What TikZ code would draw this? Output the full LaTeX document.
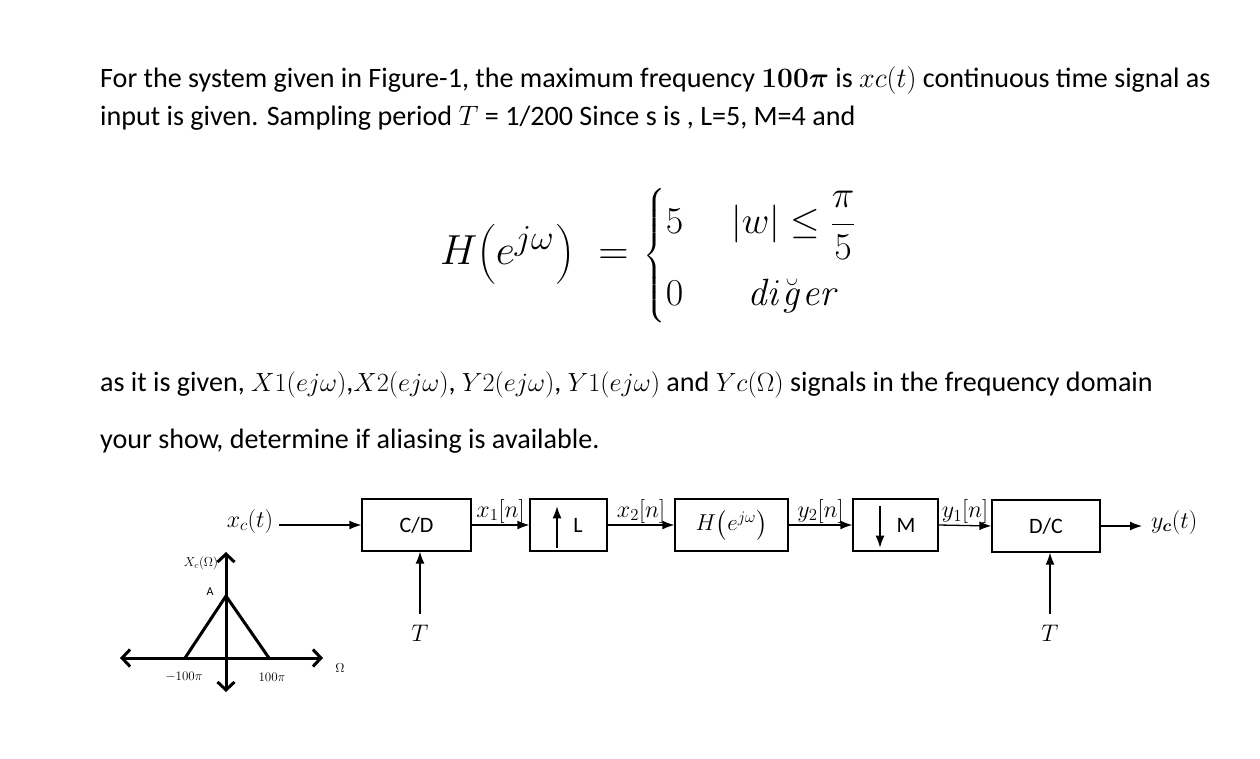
\RequirePackage{fix-cm}
\documentclass[tikz,border=0pt]{standalone}
\usepackage{amsmath}
\usepackage[no-math]{fontspec}
\setmainfont{Carlito}
\usetikzlibrary{arrows.meta}
\newcommand\smm[1]{{\fontsize{26.3}{31}\selectfont$#1$}}
\begin{document}
\begin{tikzpicture}[x=1pt,y=-1pt,
  txt/.style={anchor=base west, inner sep=0pt, font=\fontsize{28.1}{33}\selectfont},
  blk/.style={draw, line width=1.3pt, minimum height=52pt, inner sep=0pt, font=\fontsize{22}{26}\selectfont},
  sig/.style={-{Latex[length=12pt,width=9pt]}, line width=1.3pt},
  lbl/.style={font=\fontsize{24}{28}\selectfont, inner sep=1pt},
  boxtxt/.style={font=\fontsize{22}{26}\selectfont, inner sep=1pt},
  small/.style={font=\fontsize{13}{15}\selectfont, inner sep=0pt},
  ax/.style={{Straight Barb[length=8pt,width=17pt]}-{Straight Barb[length=8pt,width=17pt]}, line width=3pt},
  tri/.style={line width=3pt, line join=miter}
]
\path[use as bounding box, fill=white] (0,0) rectangle (1260,759);

% text
\node[txt] (l1) at (100,88) {For the system given in Figure-1, the maximum frequency $\boldsymbol{100\pi}$ is $xc(t)$ continuous time signal as};
\node[txt] (l2) at (100,126) {input is given. Sampling period $T$ = 1/200 Since s is , L=5, M=4 and};
\node[anchor=base west, inner sep=0pt] (eq) at (440,265)
  {{\fontsize{42}{50}\selectfont$H\!\left(e^{\text{\fontsize{35}{40}\selectfont$j\omega$}}\hspace{2pt}\right)$\hspace{24pt}$=$}\hspace{15pt}{\fontsize{38}{46}\selectfont$\left\{\begin{array}{@{}l@{\hspace{48pt}}c@{}} 5 & |w|\le\dfrac{\pi}{5}\\[26pt] 0 & \mathit{di}\breve{\mathit{g}}\mathit{er}\end{array}\right.$}};
\node[txt] (l3) at (100,391) {as it is given, \smm{X1(ej\omega)},\smm{X2(ej\omega)}, \smm{Y2(ej\omega)}, \smm{Y1(ej\omega)} and \smm{Yc(\Omega)} signals in the frequency domain};
\node[txt] (l4) at (100,448) {your show, determine if aliasing is available.};

% blocks
\node[blk, minimum width=109pt] (cd) at (416.5,525) {C/D};
\node[blk, minimum width=77pt] (up) at (568.5,525) {};
\node[blk, minimum width=113pt] (hb) at (731.5,525) {\fontsize{23}{27}\selectfont$H\!\left(e^{j\omega}\right)$};
\node[blk, minimum width=85pt] (dn) at (895.5,525) {};
\node[blk, minimum width=108pt] (dc) at (1046,526) {D/C};
\node[boxtxt] (lL) at (578,525) {L};
\node[boxtxt] (lM) at (906,525) {M};

\draw[sig] ([xshift=-11.5pt,yshift=4pt]up.south) -- ([xshift=-11.5pt,yshift=-8pt]up.north);
\draw[sig] ([xshift=-15.5pt,yshift=-8pt]dn.north) -- ([xshift=-15.5pt,yshift=4pt]dn.south);

\node[lbl, inner sep=0pt] (xc) at (250,521) {$x_c(t)$};
\draw[sig] ([xshift=6pt]xc.east |- cd.west) -- (cd.west);
\draw[sig] (cd.east) -- node[lbl, above] (x1) {$x_1[n]$} (up.west);
\draw[sig] (up.east) -- node[lbl, above] (x2) {$x_2[n]$} (hb.west);
\draw[sig] (hb.east) -- node[lbl, above] (y2) {$y_2[n]$} (dn.west);
\draw[sig] (dn.east) -- node[lbl, above] (y1) {$y_1[n]$} (dc.west);
\node[lbl, anchor=west, inner sep=0pt] (yc) at (1151,522) {$y_{\boldsymbol{c}}(t)$};
\draw[sig, shorten >=9pt] (dc.east) -- (dc.east -| yc.west);

\node[lbl] (t1) at (420,633) {$T$};
\node[lbl] (t2) at (1050,633) {$T$};
\draw[sig, shorten <=10pt] (t1.north) -- (t1.north |- cd.south);
\draw[sig, shorten <=10pt] (t2.north) -- (t2.north |- dc.south);

% spectrum
\coordinate (hl) at (120,658);
\coordinate (hr) at (323,658);
\coordinate (vt) at (226,552);
\coordinate (vb) at (226,692);
\coordinate (tl) at (185,658);
\coordinate (tp) at (226,596);
\coordinate (tr) at (269,658);
\draw[ax] (hl) -- (hr);
\draw[ax] (vb) -- (vt);
\draw[tri] (tl) -- (tp) -- (tr);
\node[small] (xcl) at (201,563) {$X_c(\Omega)$};
\node[small, font=\fontsize{12}{14}\selectfont] (al) at (210,592) {A};
\node[small] (m100) at (184,677) {$-100\pi$};
\node[small] (p100) at (272,677) {$100\pi$};
\node[small] (om) at (340,668) {$\Omega$};
\end{tikzpicture}
\end{document}
